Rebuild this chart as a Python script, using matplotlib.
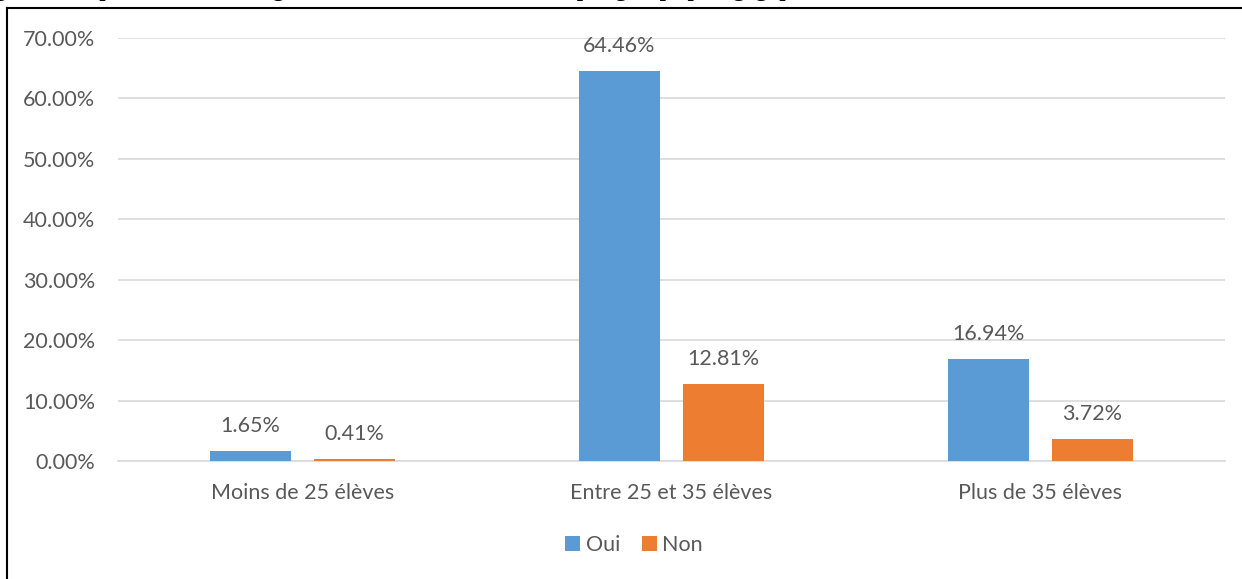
import matplotlib
matplotlib.use("Agg")
from matplotlib import pyplot as plt
from matplotlib import ticker as mtick
from matplotlib.lines import Line2D
import numpy as np

categories = ["Moins de 25 élèves", "Entre 25 et 35 élèves", "Plus de 35 élèves"]
oui = [1.65, 64.46, 16.94]
non = [0.41, 12.81, 3.72]
series_names = ["Oui", "Non"]
colors = ["#5B9BD5", "#ED7D31"]
title = "Figure 9 : Répartition des enseignants selon l'effectif des élèves par groupe pédagogique"

plt.rcParams['font.family'] = ['Lato', 'DejaVu Sans']
text_color = "#595959"
fs = 15.5

fig = plt.figure(figsize=(12.42, 5.79), dpi=100)
ax = fig.add_axes([118 / 1242, 1 - 461 / 579, (1225 - 118) / 1242, (461 - 38) / 579])

x = np.arange(len(categories))
width = 0.222
offset = 0.141
for vals, name, col, dx in zip([oui, non], series_names, colors, [-offset, offset]):
    bars = ax.bar(x + dx, vals, width, color=col, label=name, zorder=3)
    for b, v in zip(bars, vals):
        ax.annotate("{:.2f}%".format(v), (b.get_x() + b.get_width() / 2, v),
                    xytext=(0, 18), textcoords="offset points",
                    ha="center", va="center", fontsize=fs, color=text_color)

ax.set_xlim(-0.5, len(categories) - 0.5)
ax.set_ylim(0, 70)
ax.set_yticks(np.arange(0, 71, 10))
ax.yaxis.set_major_formatter(mtick.StrMethodFormatter('{x:.2f}%'))
ax.set_xticks(x)
ax.set_xticklabels(categories)
ax.tick_params(axis="both", length=0, labelsize=fs, labelcolor=text_color)
ax.tick_params(axis="y", pad=16.5)
ax.tick_params(axis="x", pad=15.5)
ax.grid(axis="y", color="#d9d9d9", linewidth=1.2, zorder=0)
for side in ["left", "right", "top"]:
    ax.spines[side].set_visible(False)
ax.spines["bottom"].set_color("#d9d9d9")
ax.spines["bottom"].set_linewidth(1.2)

fig.legend(loc="center", bbox_to_anchor=(634 / 1242, 1 - 545 / 579), ncol=2,
           frameon=False, handlelength=0.7, handleheight=0.7, handletextpad=0.25,
           columnspacing=1.0, fontsize=fs, labelcolor=text_color)

# frame of the original document box
fig.add_artist(Line2D([7 / 1242, 7 / 1242], [0, 1 - 8 / 579], transform=fig.transFigure,
                      color="black", linewidth=1.5))
fig.add_artist(Line2D([7 / 1242, 1], [1 - 8 / 579, 1 - 8 / 579], transform=fig.transFigure,
                      color="black", linewidth=1.5))

# caption cut off at the top of the picture
fig.text(-25 / 1242, 1 + 4 / 579, title, fontsize=16, fontweight="bold",
         family=["Liberation Serif"], va="baseline", ha="left")

fig.savefig("out.png", dpi=100)
